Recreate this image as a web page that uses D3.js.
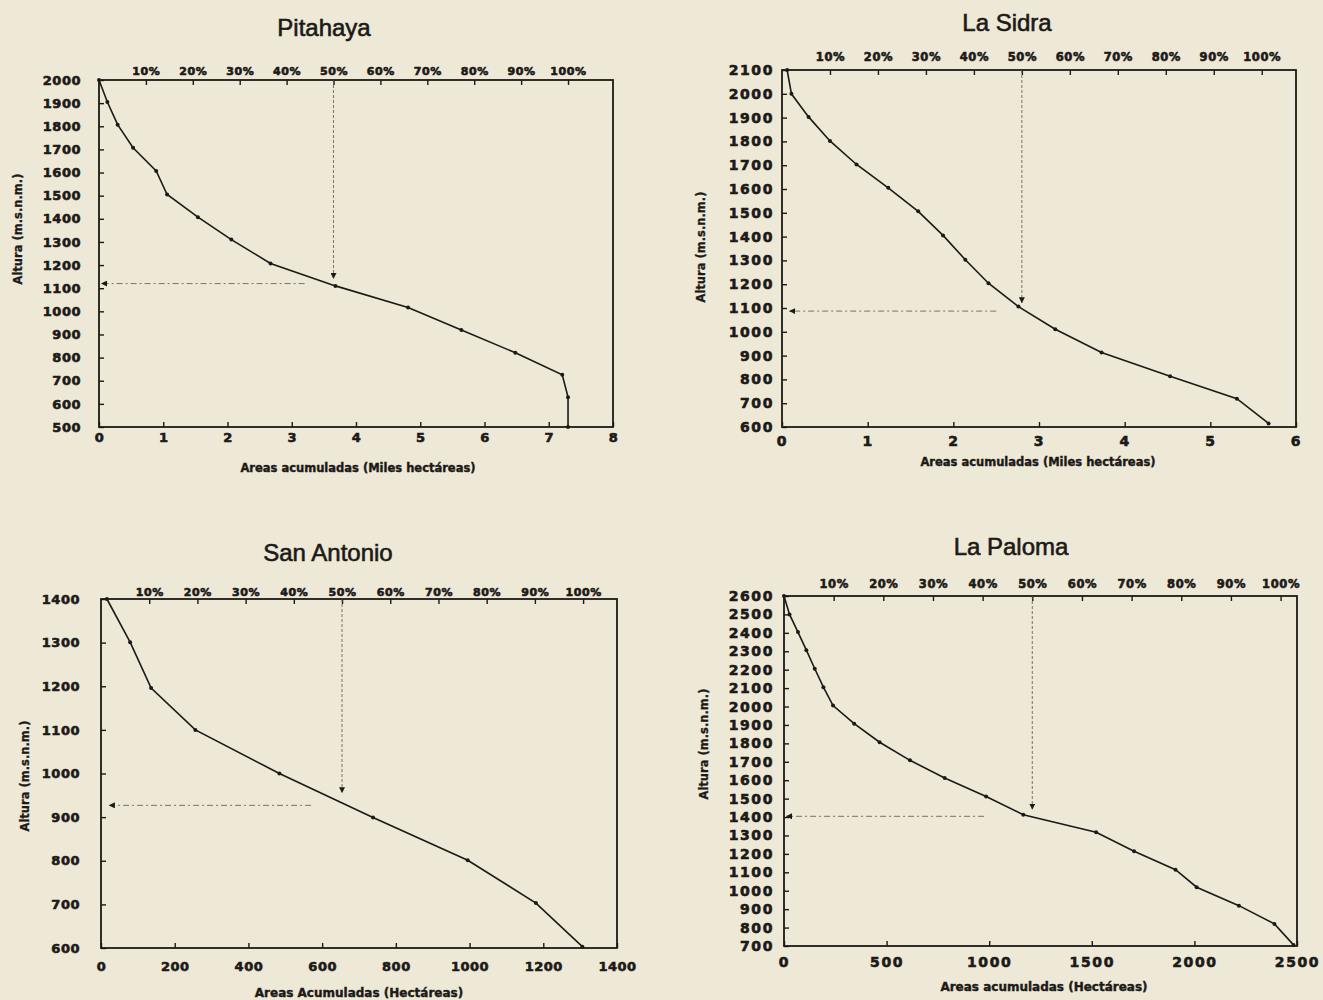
<html>
<head>
<meta charset="utf-8">
<style>
body { margin: 0; background: #eee8d7; }
</style>
</head>
<body>
<div id="chart"></div>
<script src="https://d3js.org/d3.v7.min.js"></script>
<script>

// basin names and axis texts
var names = ["Pitahaya", "La Sidra", "San Antonio", "La Paloma"]
var xTitles = ["Areas acumuladas (Miles hectáreas)", "Areas acumuladas (Miles hectáreas)",
               "Areas Acumuladas (Hectáreas)", "Areas acumuladas (Hectáreas)"]
var yTitle = "Altura (m.s.n.m.)"

// hypsometric curves: cumulative area vs altitude
var pitahayaArea = [0, 0.13, 0.29, 0.53, 0.89, 1.06, 1.54, 2.06, 2.67, 3.68, 4.81, 5.64, 6.48, 7.21, 7.30, 7.30]
var pitahayaAlt  = [2000, 1905, 1807, 1707, 1607, 1505, 1407, 1310, 1207, 1110, 1017, 919, 821, 726, 629, 500]

var sidraArea = [0.06, 0.11, 0.31, 0.56, 0.87, 1.24, 1.59, 1.88, 2.14, 2.41, 2.76, 3.19, 3.73, 4.53, 5.31, 5.68]
var sidraAlt  = [2100, 2000, 1903, 1802, 1703, 1605, 1506, 1405, 1303, 1204, 1106, 1011, 913, 813, 719, 615]

var antonioArea = [16, 79, 136, 256, 484, 738, 995, 1180, 1306]
var antonioAlt  = [1400, 1301, 1196, 1100, 1000, 899, 801, 703, 603]

var palomaArea = [0, 27, 68, 109, 150, 192, 239, 342, 466, 614, 783, 985, 1166, 1521, 1706, 1908, 2011, 2217, 2390, 2483]
var palomaAlt  = [2600, 2500, 2404, 2306, 2205, 2105, 2005, 1907, 1806, 1708, 1612, 1512, 1413, 1317, 1214, 1114, 1019, 919, 820, 706]

var areas = [pitahayaArea, sidraArea, antonioArea, palomaArea]
var alts = [pitahayaAlt, sidraAlt, antonioAlt, palomaAlt]

// axis domains and ticks
var xDomains = [[0, 8], [0, 6], [0, 1400], [0, 2500]]
var yDomains = [[500, 2000], [600, 2100], [600, 1400], [700, 2600]]
var xTicks = [d3.range(0, 9, 1), d3.range(0, 7, 1), d3.range(0, 1401, 200), d3.range(0, 2501, 500)]
var yTicks = [d3.range(500, 2001, 100), d3.range(600, 2101, 100), d3.range(600, 1401, 100), d3.range(700, 2601, 100)]
var percentTicks = [10, 20, 30, 40, 50, 60, 70, 80, 90, 100]

// total area (100%) and the 50% guide
var totalArea = [7.30, 5.60, 1308, 2420]
var medianArea = [3.65, 2.80, 654, 1210]
var medianAlt = [1120, 1087, 927, 1404]
var arrowTipAlt = [1140, 1120, 955, 1440]
var guideEndArea = [3.2, 2.5, 570, 975]

// page layout of each panel
var boxes = [
  {left: 99, right: 613, top: 80, bottom: 427, title: [324, 36], xt: [358, 472], yt: [18, 229], yPad: 18, xPad: 6, pPad: 5, fs: 13, ls: 0.5, pfs: 11},
  {left: 782, right: 1296, top: 70, bottom: 427, title: [1007, 31], xt: [1038, 466], yt: [701, 247], yPad: 8, xPad: 9, pPad: 9, fs: 14, ls: 1.6, pfs: 11.5},
  {left: 101, right: 617, top: 599, bottom: 948, title: [328, 561], xt: [359, 997], yt: [25, 776], yPad: 21, xPad: 14, pPad: 3, fs: 13, ls: 0.5, pfs: 11},
  {left: 784, right: 1297, top: 596, bottom: 946, title: [1011, 555], xt: [1044, 991], yt: [704, 744], yPad: 10, xPad: 11, pPad: 8, fs: 14, ls: 1.6, pfs: 11.5}
]

var ink = "#1c1a17"

var svg = d3.select("#chart")
  .append("svg")
  .attr("width", 1323)
  .attr("height", 1000)

svg.append("rect")
  .attr("width", 1323)
  .attr("height", 1000)
  .attr("fill", "#eee8d7")

var defs = svg.append("defs")
defs.append("marker")
  .attr("id", "arrow")
  .attr("viewBox", "0 0 10 10")
  .attr("refX", 10)
  .attr("refY", 5)
  .attr("markerWidth", 6)
  .attr("markerHeight", 6)
  .attr("markerUnits", "userSpaceOnUse")
  .attr("orient", "auto")
  .append("path")
  .attr("d", "M0,0 L10,5 L0,10 z")
  .attr("fill", ink)

function styleTicks(g, fs, ls){
    g.select(".domain").remove()
    g.selectAll(".tick line").attr("stroke", ink).attr("stroke-width", 1.4)
    g.selectAll(".tick text")
      .attr("fill", ink)
      .attr("stroke", ink)
      .attr("stroke-width", 0.6)
      .style("font-family", "'DejaVu Sans', sans-serif")
      .style("font-weight", "bold")
      .style("font-size", fs + "px")
      .style("letter-spacing", ls + "px")
}

names.forEach(function(name, k){
    var b = boxes[k]

    var x = d3.scaleLinear().domain(xDomains[k]).range([b.left, b.right])
    var y = d3.scaleLinear().domain(yDomains[k]).range([b.bottom, b.top])
    var pct = d3.scaleLinear().domain([0, 100]).range([x(0), x(totalArea[k])])

    var panel = svg.append("g").attr("class", "panel")

    // title
    panel.append("text")
      .attr("x", b.title[0])
      .attr("y", b.title[1])
      .attr("text-anchor", "middle")
      .style("font-family", "'Liberation Sans', Arial, sans-serif")
      .style("font-size", "24px")
      .attr("fill", ink)
      .attr("stroke", ink)
      .attr("stroke-width", 0.6)
      .text(name)

    // axes (ticks point inwards)
    var gl = panel.append("g")
      .attr("transform", "translate(" + b.left + ",0)")
      .call(d3.axisLeft(y).tickValues(yTicks[k]).tickSizeInner(-5).tickSizeOuter(0).tickPadding(b.yPad).tickFormat(d3.format("d")))
    styleTicks(gl, b.fs, b.ls)

    var gb = panel.append("g")
      .attr("transform", "translate(0," + b.bottom + ")")
      .call(d3.axisBottom(x).tickValues(xTicks[k]).tickSizeInner(-5).tickSizeOuter(0).tickPadding(b.xPad).tickFormat(d3.format("d")))
    styleTicks(gb, b.fs, b.ls)

    var gt = panel.append("g")
      .attr("transform", "translate(0," + b.top + ")")
      .call(d3.axisTop(pct).tickValues(percentTicks).tickSizeInner(-5).tickSizeOuter(0).tickPadding(b.pPad).tickFormat(d => d + "%"))
    styleTicks(gt, b.pfs, 0.6)

    // frame
    panel.append("rect")
      .attr("x", b.left)
      .attr("y", b.top)
      .attr("width", b.right - b.left)
      .attr("height", b.bottom - b.top)
      .attr("fill", "none")
      .attr("stroke", ink)
      .attr("stroke-width", 1.8)

    // axis titles
    panel.append("text")
      .attr("x", b.xt[0])
      .attr("y", b.xt[1])
      .attr("text-anchor", "middle")
      .style("font-family", "'DejaVu Sans', sans-serif")
      .style("font-weight", "bold")
      .style("font-size", (k < 2 ? 11.5 : 12) + "px")
      .attr("fill", ink)
      .attr("stroke", ink)
      .attr("stroke-width", 0.4)
      .text(xTitles[k])

    panel.append("text")
      .attr("transform", "translate(" + b.yt[0] + "," + b.yt[1] + ") rotate(-90)")
      .attr("dy", "0.35em")
      .attr("text-anchor", "middle")
      .style("font-family", "'DejaVu Sans', sans-serif")
      .style("font-weight", "bold")
      .style("font-size", "11.5px")
      .attr("fill", ink)
      .attr("stroke", ink)
      .attr("stroke-width", 0.3)
      .text(yTitle)

    // 50% guide lines
    panel.append("line")
      .attr("x1", x(medianArea[k]))
      .attr("x2", x(medianArea[k]))
      .attr("y1", b.top)
      .attr("y2", y(arrowTipAlt[k]))
      .attr("stroke", "#5a564d")
      .attr("stroke-width", 0.8)
      .attr("stroke-dasharray", "3,2")
      .attr("marker-end", "url(#arrow)")

    panel.append("line")
      .attr("x1", x(guideEndArea[k]))
      .attr("x2", x(areas[k][0]) + 2)
      .attr("y1", y(medianAlt[k]))
      .attr("y2", y(medianAlt[k]))
      .attr("stroke", "#5a564d")
      .attr("stroke-width", 0.8)
      .attr("stroke-dasharray", "6,3,2,3")
      .attr("marker-end", "url(#arrow)")

    // curve
    var pts = d3.zip(areas[k], alts[k])
    var line = d3.line()
      .x(d => x(d[0]))
      .y(d => y(d[1]))

    panel.append("path")
      .datum(pts)
      .attr("d", line)
      .attr("fill", "none")
      .attr("stroke", ink)
      .attr("stroke-width", 1.6)

    panel.selectAll(".dot")
      .data(pts)
      .enter()
      .append("circle")
      .attr("class", "dot")
      .attr("cx", d => x(d[0]))
      .attr("cy", d => y(d[1]))
      .attr("r", 2)
      .attr("fill", ink)
})

</script>
</body>
</html>
